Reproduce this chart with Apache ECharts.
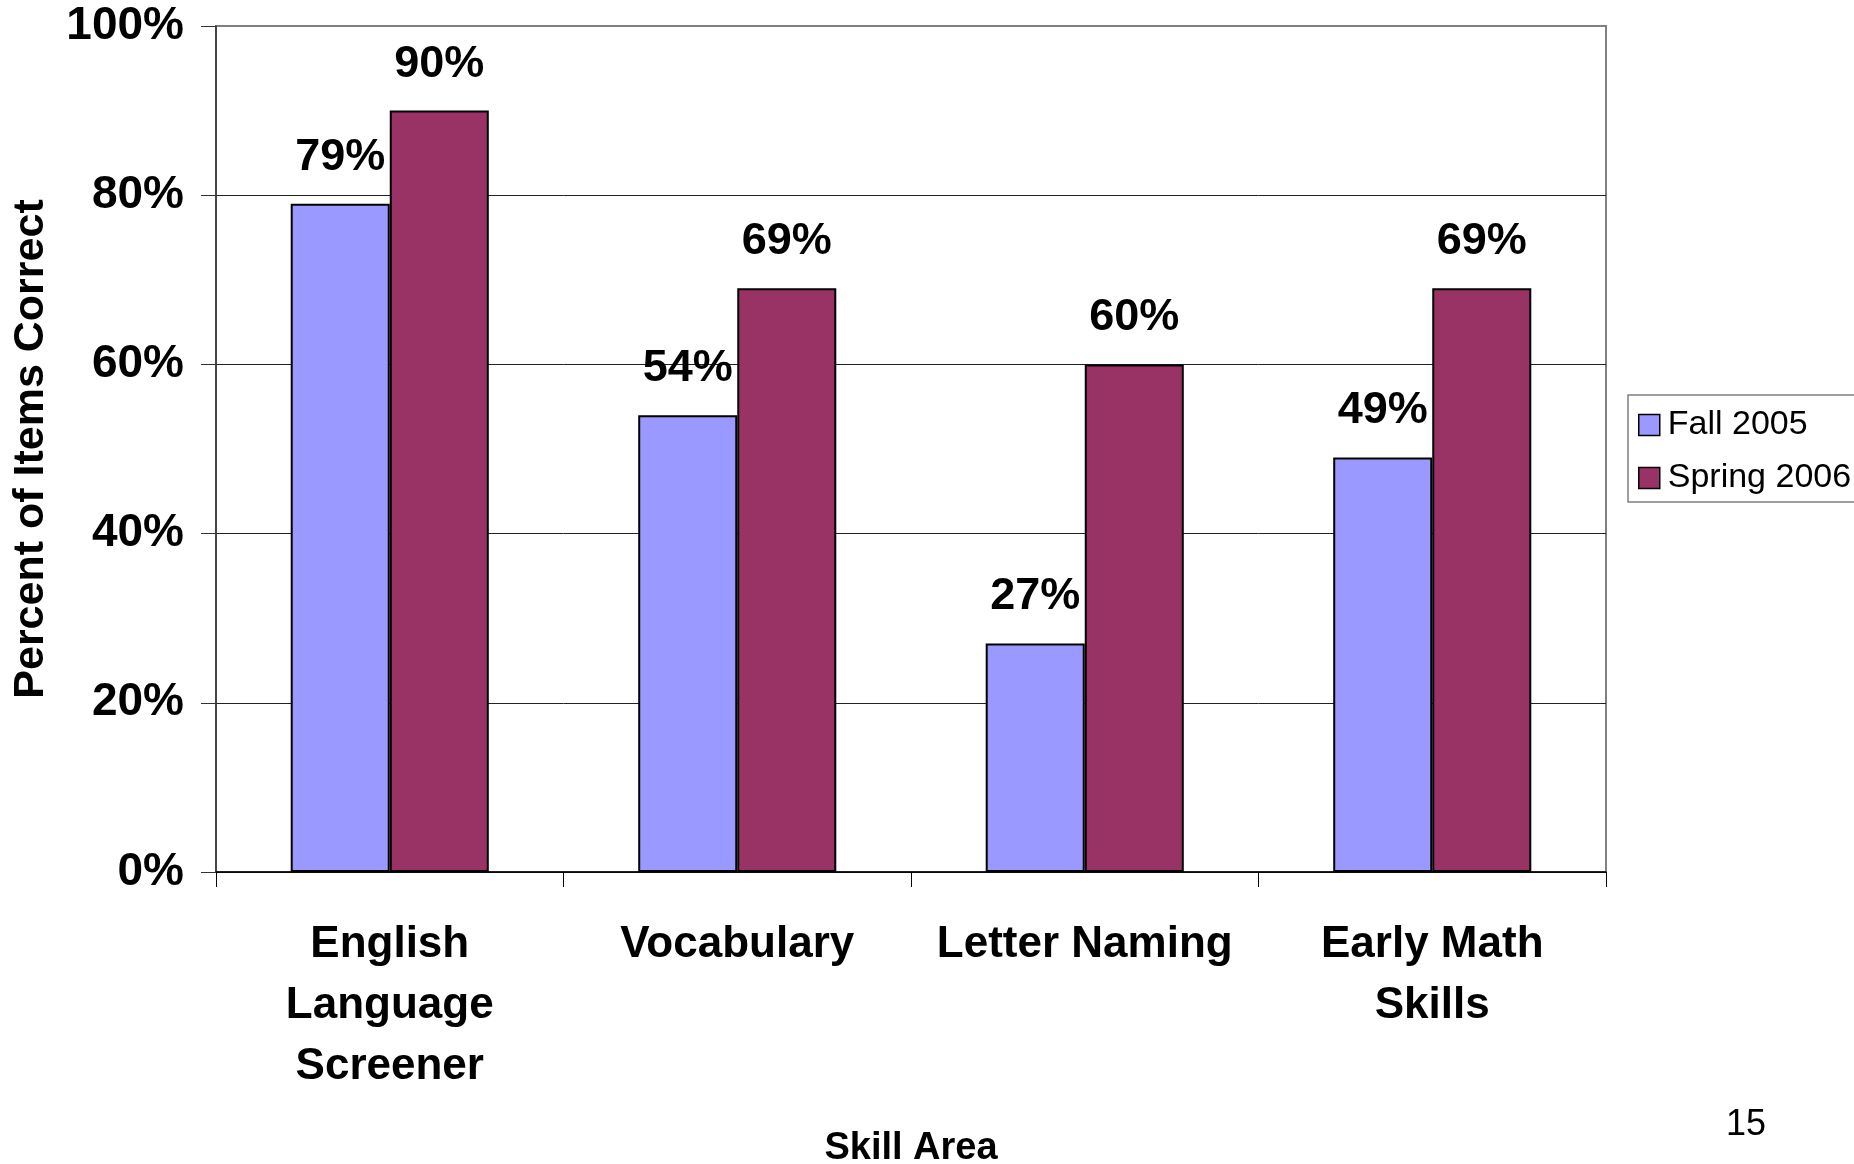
<!DOCTYPE html>
<html>
<head>
<meta charset="utf-8">
<script src="https://cdn.jsdelivr.net/npm/echarts@6/dist/echarts.min.js"></script>
<style>
	html, body {margin: 0; padding: 0; background: #fff;}
	#chart {width: 1854px; height: 1164px;}
</style>
</head>
<body>
<div id="chart"></div>
<script>
var categories = ['English\nLanguage\nScreener', 'Vocabulary', 'Letter Naming', 'Early Math\nSkills'];
var fall2005 = [79, 54, 27, 49];
var spring2006 = [90, 69, 60, 69];
var yTicks = [0, 20, 40, 60, 80, 100];

var font = "'Liberation Sans', Arial, sans-serif";
var e = echarts.init(document.getElementById('chart'));

var barLabel = {
	show: true,
	position: 'top',
	distance: 24,
	formatter: '{c}%',
	fontFamily: font,
	fontWeight: 'bold',
	fontSize: 45,
	color: '#000'
};

var u = {
	animation: false,
	backgroundColor: '#fff',
	grid: {
		left: 216,
		right: 248,
		top: 26,
		bottom: 292,
		outerBoundsMode: 'none',
		containLabel: false,
		show: true,
		borderColor: '#808080',
		borderWidth: 2
	},
	legend: {
		orient: 'vertical',
		left: 1628,
		top: 395,
		padding: [13, 80, 7, 10],
		backgroundColor: '#fff',
		borderColor: '#808080',
		borderWidth: 1.5,
		borderRadius: 0,
		itemWidth: 21,
		itemHeight: 21,
		itemGap: 19,
		icon: 'rect',
		itemStyle: {borderColor: '#000', borderWidth: 1.5},
		textStyle: {
			fontFamily: font,
			fontSize: 34,
			color: '#000',
			lineHeight: 34,
			padding: [0, 0, 0, 3]
		},
		data: ['Fall 2005', 'Spring 2006']
	},
	xAxis: {
		type: 'category',
		data: categories,
		name: 'Skill Area',
		nameLocation: 'middle',
		nameGap: 258,
		nameTextStyle: {fontFamily: font, fontWeight: 'bold', fontSize: 38, color: '#000'},
		axisLine: {lineStyle: {color: '#000', width: 1.5}},
		axisTick: {show: true, length: 15, lineStyle: {color: '#000'}},
		axisLabel: {
			interval: 0,
			margin: 42,
			fontFamily: font,
			fontWeight: 'bold',
			fontSize: 44,
			lineHeight: 61,
			color: '#000'
		}
	},
	yAxis: {
		type: 'value',
		min: yTicks[0],
		max: yTicks[yTicks.length - 1],
		interval: 20,
		name: 'Percent of Items Correct',
		nameLocation: 'middle',
		nameGap: 163,
		nameTextStyle: {fontFamily: font, fontWeight: 'bold', fontSize: 43, color: '#000'},
		axisLine: {show: true, lineStyle: {color: '#333', width: 1.5}},
		axisTick: {show: true, length: 15, lineStyle: {color: '#333'}},
		axisLabel: {
			margin: 32,
			formatter: '{value}%',
			fontFamily: font,
			fontWeight: 'bold',
			fontSize: 46,
			color: '#000'
		},
		splitLine: {show: true, showMaxLine: false, lineStyle: {color: '#222', width: 1}}
	},
	series: [{
		name: 'Fall 2005',
		type: 'bar',
		data: fall2005,
		barGap: '0%',
		barCategoryGap: '43%',
		itemStyle: {color: '#9999ff', borderColor: '#000', borderWidth: 2},
		label: barLabel
	}, {
		name: 'Spring 2006',
		type: 'bar',
		data: spring2006,
		itemStyle: {color: '#993366', borderColor: '#000', borderWidth: 2},
		label: barLabel
	}],
	graphic: [{
		type: 'text',
		left: 1726,
		top: 1107,
		style: {text: '15', fontFamily: font, fontSize: 36, fill: '#000'}
	}]
};
e.setOption(u);
</script>
</body>
</html>
